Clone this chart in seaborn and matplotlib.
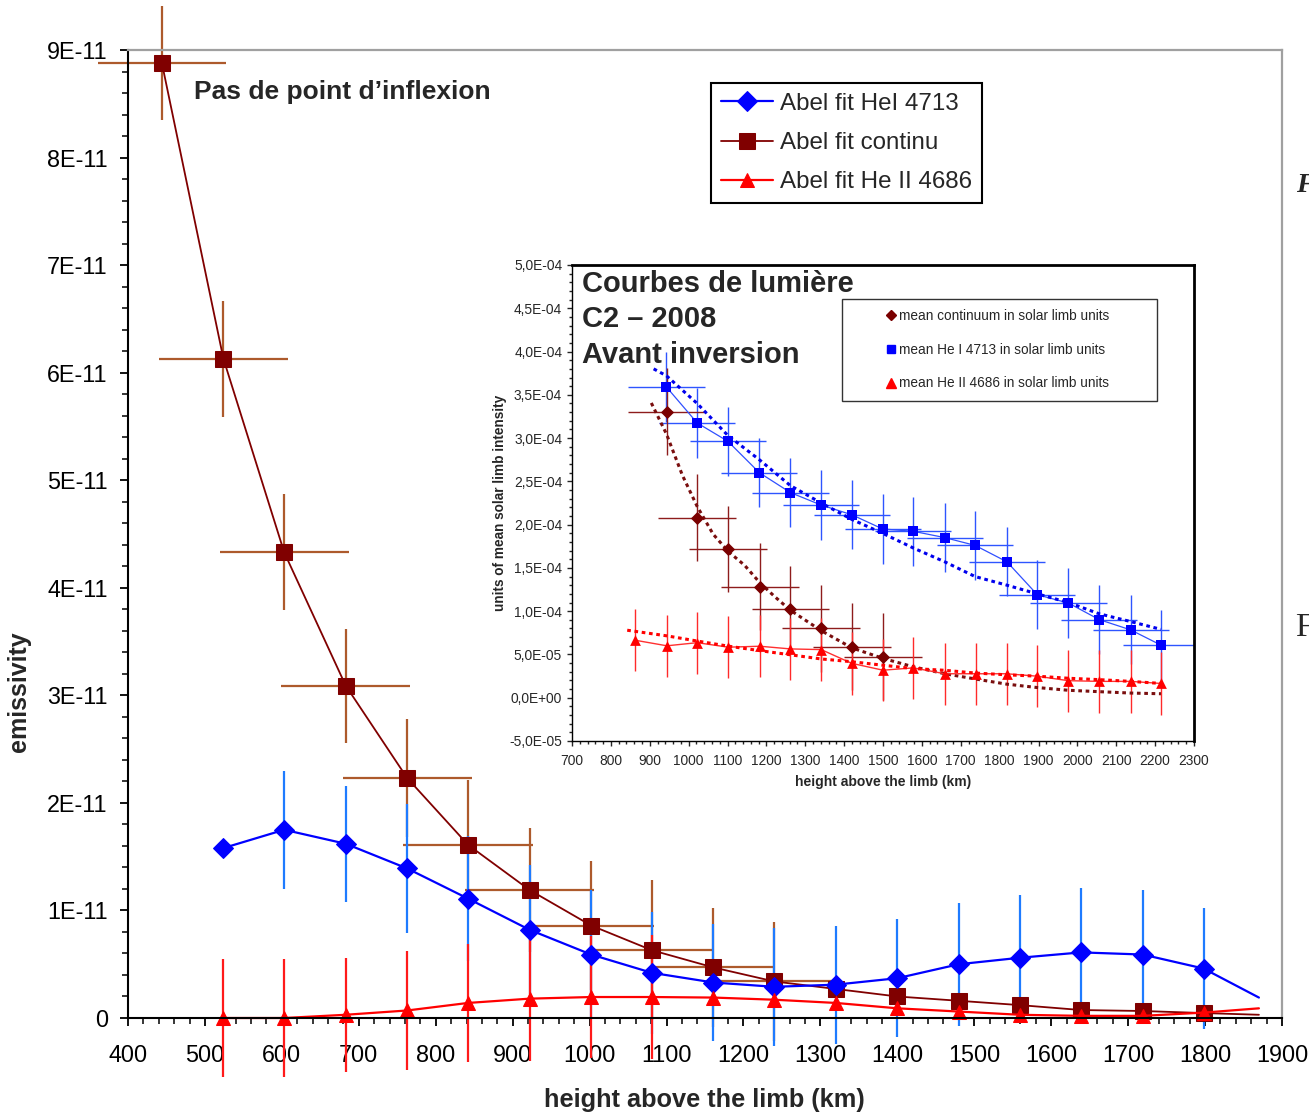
import matplotlib
matplotlib.use('Agg')
import numpy as np
import matplotlib.pyplot as plt
import seaborn as sns
from matplotlib.ticker import MultipleLocator, FuncFormatter, FixedLocator
from matplotlib.lines import Line2D
from matplotlib.patches import Rectangle

# ---- main chart : Abel fits, emissivity in units of 1E-11 ----
heights = [444, 524, 603, 683, 763, 842, 922, 1002, 1081, 1161, 1240, 1320,
           1400, 1480, 1559, 1639, 1719, 1798, 1870]
continu = [8.88, 6.13, 4.33, 3.09, 2.23, 1.61, 1.19, 0.86, 0.63, 0.47, 0.34,
           0.27, 0.20, 0.16, 0.12, 0.074, 0.065, 0.046, 0.03]
continu_yerr = [0.53, 0.54, 0.54, 0.53, 0.55, 0.6, 0.58, 0.6, 0.65, 0.55, 0.55]
continu_xerr = [83, 84, 84, 84, 84, 84, 84, 82, 80, 78, 80]

hei_4713 = [1.58, 1.75, 1.62, 1.39, 1.11, 0.82, 0.59, 0.42, 0.33, 0.29, 0.31,
            0.37, 0.50, 0.56, 0.61, 0.59, 0.46, 0.19]
hei_yerr = [0.55, 0.54, 0.6, 0.58, 0.6, 0.6, 0.57, 0.54, 0.55, 0.55, 0.55,
            0.57, 0.58, 0.6, 0.6, 0.56]

heii_4686 = [0, 0, 0.03, 0.07, 0.14, 0.18, 0.195, 0.195, 0.19, 0.17, 0.14,
             0.09, 0.06, 0.03, 0.02, 0.02, 0.05, 0.09]
heii_yerr = [0.55, 0.55, 0.53, 0.55, 0.55, 0.58, 0.57, 0.58]

main_labels = ['Abel fit HeI 4713', 'Abel fit continu', 'Abel fit He II 4686']
main_yticks = [0, 1, 2, 3, 4, 5, 6, 7, 8, 9]

# ---- inset : light curves C2 - 2008 (units of 1E-4) ----
in_h_hei = [943, 1022, 1101, 1182, 1262, 1341, 1420, 1499, 1578, 1659, 1737,
            1819, 1897, 1977, 2056, 2137, 2215]
in_hei = [3.59, 3.175, 2.963, 2.60, 2.37, 2.226, 2.114, 1.95, 1.923, 1.85,
          1.76, 1.57, 1.19, 1.094, 0.903, 0.784, 0.608]
in_hei_fit = [3.80, 3.72, 3.40, 3.03, 2.75, 2.45, 2.25, 2.06, 1.90, 1.73, 1.57,
              1.40, 1.30, 1.20, 1.10, 0.97, 0.88, 0.79]
in_h_hei_fit = [910] + in_h_hei

in_h_cont = [945, 1022, 1102, 1183, 1262, 1341, 1420, 1500]
in_cont = [3.306, 2.08, 1.72, 1.285, 1.026, 0.80, 0.59, 0.476]
in_h_cont_fit = [904, 943, 984, 1022, 1063, 1102, 1144, 1183, 1221, 1262, 1341,
                 1420, 1499, 1578, 1659, 1737, 1818, 1896, 1977, 2056, 2137, 2215]
in_cont_fit = [3.406, 3.047, 2.57, 2.21, 1.89, 1.69, 1.53, 1.33, 1.17, 1.01,
               0.775, 0.576, 0.456, 0.357, 0.277, 0.217, 0.157, 0.118, 0.086,
               0.070, 0.054, 0.046]

in_h_heii = [863, 944, 1022, 1102, 1183, 1262, 1341, 1420, 1500, 1578, 1659,
             1738, 1818, 1896, 1977, 2056, 2137, 2215]
in_heii = [0.664, 0.60, 0.636, 0.584, 0.595, 0.564, 0.556, 0.397, 0.318, 0.345,
           0.277, 0.277, 0.277, 0.249, 0.197, 0.189, 0.189, 0.165]
in_h_heii_fit = [842, 944, 1022, 1102, 1183, 1262, 1341, 1420, 1499, 1578,
                 1659, 1738, 1818, 1896, 1977, 2056, 2137, 2215]
in_heii_fit = [0.78, 0.715, 0.655, 0.596, 0.544, 0.496, 0.448, 0.416, 0.376,
               0.337, 0.317, 0.285, 0.265, 0.249, 0.225, 0.209, 0.189, 0.165]

inset_labels = ['mean continuum in solar limb units',
                'mean He I 4713 in solar limb units',
                'mean He II 4686 in solar limb units']
inset_yticks = [-0.5, 0, 0.5, 1.0, 1.5, 2.0, 2.5, 3.0, 3.5, 4.0, 4.5, 5.0]

sns.set_style('ticks')
plt.rcParams['font.family'] = ['Liberation Sans', 'DejaVu Sans']

W, H = 1309, 1117
fig = plt.figure(figsize=(W / 100, H / 100), dpi=100)
fig.patch.set_facecolor('white')

ax = fig.add_axes([128 / W, (H - 1018) / H, 1154 / W, 968 / H])

E11 = 1e-11
h = np.array(heights)
cont_v = np.array(continu) * E11
hei_v = np.array(hei_4713) * E11
heii_v = np.array(heii_4686) * E11

# error bars (drawn first, lines and markers on top)
n = len(continu_yerr)
eb = ax.errorbar(h[:n], cont_v[:n], yerr=np.array(continu_yerr) * E11,
                 xerr=continu_xerr, fmt='none', ecolor='#AD5A2C', elinewidth=1.6)
for c in eb.lines[2]:
    c.set_clip_on(False)
n = len(hei_yerr)
eb = ax.errorbar(h[2:2 + n], hei_v[1:1 + n], yerr=np.array(hei_yerr) * E11,
                 fmt='none', ecolor='#1E7BFF', elinewidth=1.6)
for c in eb.lines[2]:
    c.set_clip_on(False)
n = len(heii_yerr)
eb = ax.errorbar(h[1:1 + n], heii_v[:n], yerr=np.array(heii_yerr) * E11,
                 fmt='none', ecolor='#FF1A1A', elinewidth=1.6)
for c in eb.lines[2]:
    c.set_clip_on(False)

sns.lineplot(x=h[:-1], y=cont_v[:-1], ax=ax, color='#800000', lw=1.3,
             marker='s', markersize=11, markeredgecolor='#800000', clip_on=False)
l_cont = ax.lines[-1]
sns.lineplot(x=h[-2:], y=cont_v[-2:], ax=ax, color='#800000', lw=1.3, clip_on=False)

sns.lineplot(x=h[1:-1], y=hei_v[:-1], ax=ax, color='#0000FF', lw=1.6,
             marker='D', markersize=10.5, markeredgecolor='#0000FF', clip_on=False)
l_hei = ax.lines[-1]
sns.lineplot(x=h[-2:], y=hei_v[-2:], ax=ax, color='#0000FF', lw=1.6, clip_on=False)

sns.lineplot(x=h[1:-1], y=heii_v[:-1], ax=ax, color='#FF0000', lw=1.6,
             marker='^', markersize=10, markeredgecolor='#FF0000', clip_on=False)
l_heii = ax.lines[-1]
sns.lineplot(x=h[-2:], y=heii_v[-2:], ax=ax, color='#FF0000', lw=1.6, clip_on=False)

ax.set_xlim(400, 1900)
ax.set_ylim(0, 9e-11)
ax.xaxis.set_major_locator(FixedLocator(list(range(400, 2000, 100))))
ax.xaxis.set_minor_locator(MultipleLocator(20))
ax.yaxis.set_major_locator(FixedLocator([v * E11 for v in main_yticks]))
ax.yaxis.set_minor_locator(MultipleLocator(2e-12))


def fmt_main(v, pos):
    if abs(v) < 1e-15:
        return '0'
    return f'{v:.0E}'


ax.yaxis.set_major_formatter(FuncFormatter(fmt_main))
ax.tick_params(which='major', direction='out', length=5.5, width=1.3,
               labelsize=16.8, colors='black')
ax.tick_params(which='minor', direction='out', length=4, width=1.3)
ax.tick_params(axis='y', which='major', pad=9)
ax.tick_params(axis='x', which='major', pad=13.5)
for s in ['left', 'bottom']:
    ax.spines[s].set_color('black')
    ax.spines[s].set_linewidth(1.5)
for s in ['top', 'right']:
    ax.spines[s].set_color('#A0A0A0')
    ax.spines[s].set_linewidth(1.6)

ax.set_xlabel('height above the limb (km)', fontsize=18.3, fontweight='bold')
ax.set_ylabel('emissivity', fontsize=18, fontweight='bold')
ax.xaxis.set_label_coords((704.5 - 128) / 1154, (1018 - 1088) / 968)
ax.yaxis.set_label_coords((31 - 128) / 1154, (1018 - 692) / 968)

ax.text((194 - 128) / 1154, (1018 - 99) / 968, 'Pas de point d\u2019inflexion',
        transform=ax.transAxes, fontsize=19, fontweight='bold', va='baseline', ha='left')

leg = ax.legend(handles=[l_hei, l_cont, l_heii], labels=main_labels,
                loc='upper left', bbox_to_anchor=((711 - 128) / 1154, (1018 - 83) / 968),
                borderaxespad=0, frameon=True, fancybox=False, edgecolor='black',
                framealpha=1, fontsize=17.4, handlelength=2.15, handletextpad=0.3,
                labelspacing=0.72, borderpad=0.4)
leg.get_frame().set_linewidth(1.5)

# ---- inset ----
axi = fig.add_axes([572 / W, (H - 741) / H, 622 / W, 476 / H])
axi.set_facecolor('white')
E4 = 1e-4

axi.errorbar(in_h_hei, np.array(in_hei) * E4, yerr=0.4 * E4, xerr=98,
             fmt='none', ecolor='#2E55FF', elinewidth=1.0)
axi.errorbar(in_h_cont, np.array(in_cont) * E4, yerr=0.5 * E4, xerr=100,
             fmt='none', ecolor='#8E1C1C', elinewidth=1.0)
axi.errorbar(in_h_heii, np.array(in_heii) * E4, yerr=0.36 * E4,
             fmt='none', ecolor='#FF2A2A', elinewidth=1.0)

dots = (0, (1.2, 1.2))
sns.lineplot(x=in_h_hei, y=np.array(in_hei) * E4, ax=axi, color='#3050FF', lw=0.9)
sns.lineplot(x=in_h_hei_fit, y=np.array(in_hei_fit) * E4, ax=axi, color='#0000EE',
             lw=2.2, linestyle=dots)
sns.lineplot(x=in_h_cont_fit, y=np.array(in_cont_fit) * E4, ax=axi, color='#7A0E0E',
             lw=2.2, linestyle=dots)
sns.lineplot(x=in_h_heii, y=np.array(in_heii) * E4, ax=axi, color='#FF3030', lw=1.0)
sns.lineplot(x=in_h_heii_fit, y=np.array(in_heii_fit) * E4, ax=axi, color='#FF0000',
             lw=2.2, linestyle=dots)

sns.scatterplot(x=in_h_hei, y=np.array(in_hei) * E4, ax=axi, marker='s', s=55,
                color='#0000FF', edgecolor='#0000FF', linewidth=0, zorder=5)
sns.scatterplot(x=in_h_cont, y=np.array(in_cont) * E4, ax=axi, marker='D', s=45,
                color='#7A0000', edgecolor='#7A0000', linewidth=0, zorder=5)
sns.scatterplot(x=in_h_heii, y=np.array(in_heii) * E4, ax=axi, marker='^', s=60,
                color='#FF0000', edgecolor='#FF0000', linewidth=0, zorder=5)

axi.set_xlim(700, 2300)
axi.set_ylim(-5e-5, 5e-4)
axi.xaxis.set_major_locator(FixedLocator(list(range(700, 2400, 100))))
axi.xaxis.set_minor_locator(MultipleLocator(20))
axi.yaxis.set_major_locator(FixedLocator([v * E4 for v in inset_yticks]))
axi.yaxis.set_minor_locator(MultipleLocator(1e-5))


def fmt_inset(v, pos):
    if abs(v) < 1e-12:
        v = 0.0
    return f'{v:.1E}'.replace('.', ',')


axi.yaxis.set_major_formatter(FuncFormatter(fmt_inset))
axi.tick_params(which='major', direction='out', length=3.6, width=1, labelsize=9.9)
axi.tick_params(which='minor', direction='out', length=2.4, width=1)
axi.tick_params(axis='y', which='major', pad=3.5)
axi.tick_params(axis='x', which='major', pad=6)
for s in ['left', 'bottom']:
    axi.spines[s].set_linewidth(1.0)
    axi.spines[s].set_color('black')
for s in ['top', 'right']:
    axi.spines[s].set_linewidth(2.0)
    axi.spines[s].set_color('black')

axi.set_xlabel('height above the limb (km)', fontsize=10, fontweight='bold')
axi.set_ylabel('units of mean solar limb intensity', fontsize=9.8, fontweight='bold')
axi.xaxis.set_label_coords(0.5, (741 - 775) / 476)
axi.yaxis.set_label_coords((507 - 572) / 622, 0.5)

for txt, yb in [('Courbes de lumi\u00e8re', 292), ('C2 \u2013 2008', 327),
                ('Avant inversion', 363)]:
    axi.text((582 - 572) / 622, (741 - yb) / 476, txt, transform=axi.transAxes,
             fontsize=21, fontweight='bold', va='baseline', ha='left')

axi.add_patch(Rectangle(((842 - 572) / 622, (741 - 401) / 476), 315 / 622, 102 / 476,
                        transform=axi.transAxes, facecolor='white', edgecolor='#333333',
                        lw=1.0, zorder=6))
in_handles = [Line2D([], [], ls='none', marker='D', color='#7A0000', markersize=5),
              Line2D([], [], ls='none', marker='s', color='#0000FF', markersize=6),
              Line2D([], [], ls='none', marker='^', color='#FF0000', markersize=6.5)]
ileg = axi.legend(handles=in_handles, labels=inset_labels, loc='upper left',
                  bbox_to_anchor=((885 - 572) / 622, (741 - 309) / 476), borderaxespad=0,
                  frameon=False, fontsize=9.8, handlelength=0.9, handletextpad=0.1,
                  labelspacing=1.45, borderpad=0)
ileg.set_zorder(7)

# partially visible page text at right edge
fig.text(1296 / W, 1 - 185 / H, 'F', fontsize=20, family='Liberation Serif',
         style='italic', fontweight='bold', va='center', ha='left')
fig.text(1295 / W, 1 - 628 / H, 'F', fontsize=24, family='Liberation Serif',
         va='center', ha='left')

fig.savefig('out.png', dpi=100, facecolor='white')
